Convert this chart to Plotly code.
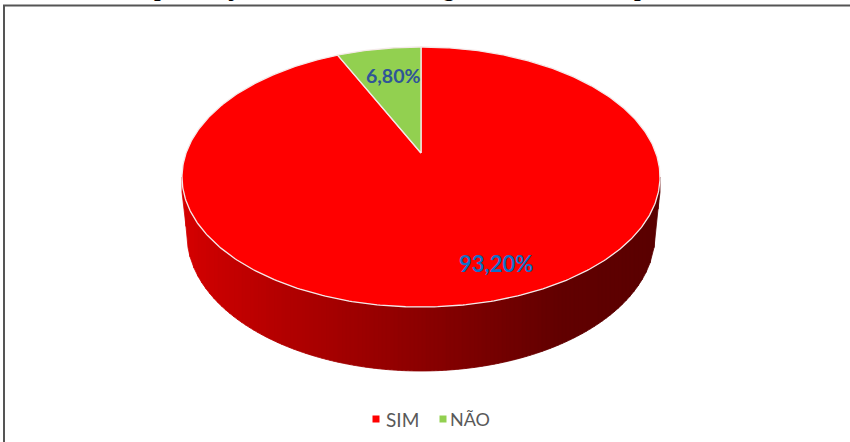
import numpy as np
import plotly.graph_objects as go

# --- data ---
categories = ["SIM", "NÃO"]
shares = [93.20, 6.80]
share_labels = ["93,20%", "6,80%"]
slice_colors = ["#ff0000", "#92d050"]
title_fragments = ["p", "j", "g,", "p"]   # only the descenders of the cropped title survive
title_fragment_x = [160, 232, 452, 640]

W, H = 850, 442

# --- geometry of the tilted disc (page pixels) ---
CX, CY = 421, 153          # apex of the slices
A, B, K = 234.9, 125.6, 0.1846   # perspective projection of the top disc
RIM_Y, RIM_RX, RIM_RY = 177, 239, 130     # silhouette of the top disc
BASE_Y, BASE_RX, BASE_RY = 235, 234, 136  # silhouette of the bottom edge
STRIP = 4

def rim(theta):
    """Project angle theta (radians, clockwise from the far point) onto the disc."""
    d = 1 + K * np.cos(theta)
    return CX + A * np.sin(theta) / d, CY - B * np.cos(theta) / d

def wedge(start, end):
    th = np.linspace(start, end, max(int(abs(end - start) * 90), 12))
    x, y = rim(th)
    return np.r_[CX, x, CX], np.r_[CY, y, CY]

fig = go.Figure()

# side wall, as vertical strips with a horizontal shade
shade_x = [183, 207, 280, 421, 520, 560, 659]
shade_r = [214, 204, 180, 140, 110, 98, 90]

def wall_top(x):
    return RIM_Y + RIM_RY * np.sqrt(np.clip(1 - ((x - CX) / RIM_RX) ** 2, 0, 1))

def wall_bottom(x):
    return BASE_Y + BASE_RY * np.sqrt(np.clip(1 - ((x - CX) / BASE_RX) ** 2, 0, 1))

left_edge = CX - RIM_RX
right_edge = CX + RIM_RX
for x0 in np.arange(left_edge, right_edge, STRIP):
    x1 = min(x0 + STRIP, right_edge)
    xs = np.linspace(x0, x1, 3)
    inner = np.clip(xs, CX - BASE_RX, CX + BASE_RX)
    top = wall_top(xs)
    bottom = np.maximum(wall_bottom(inner), top)
    # taper the outermost columns from the rim towards the bottom edge
    outside = np.abs(xs - CX) > BASE_RX
    frac = (np.abs(xs - CX) - BASE_RX) / (RIM_RX - BASE_RX)
    bottom = np.where(outside, BASE_Y + (192 - BASE_Y) * frac, bottom)
    r = int(np.interp((x0 + x1) / 2, shade_x, shade_r))
    col = f"rgb({r},0,0)"
    fig.add_trace(go.Scatter(
        x=np.r_[xs, xs[::-1], xs[0]], y=np.r_[top, bottom[::-1], top[0]],
        mode="lines", fill="toself", fillcolor=col,
        line=dict(color=col, width=0.8), hoverinfo="skip", showlegend=False))

# top face: slices are laid out clockwise from the 12 o'clock point
fracs = np.array(shares) / sum(shares)
ends = 2 * np.pi * np.cumsum(fracs)
starts = np.r_[0, ends[:-1]]
for name, s, e, c in zip(categories, starts, ends, slice_colors):
    x, y = wedge(s, e)
    fig.add_trace(go.Scatter(
        x=x, y=y, name=name, mode="lines", fill="toself", fillcolor=c,
        line=dict(color="#f4e9e9", width=1.3), hoverinfo="skip", showlegend=False))

# key: coloured squares plus names
key_sq_x = [376, 443]
key_tx_x = [384, 448]
KEY_Y = 419
fig.add_trace(go.Scatter(
    x=key_sq_x, y=[KEY_Y, KEY_Y], mode="markers",
    marker=dict(symbol="square", size=7, color=slice_colors),
    hoverinfo="skip", showlegend=False))

annotations = []
for name, x, s in zip(categories, key_tx_x, [19, 18]):
    annotations.append(dict(x=x, y=KEY_Y, text=name, showarrow=False, xanchor="left",
                            yanchor="middle", font=dict(family="Lato", size=s, color="#595959")))

label_pos = [(496, 263), (393, 75)]
label_colors = ["#0f6fc6", "#2f5597"]
label_sizes = [22, 19.5]
for t, (x, y), c, s in zip(share_labels, label_pos, label_colors, label_sizes):
    annotations.append(dict(x=x, y=y, text=f"<b>{t}</b>", showarrow=False,
                            font=dict(family="Lato", size=s, color=c)))

for t, x in zip(title_fragments, title_fragment_x):
    annotations.append(dict(x=x, y=3, text=f"<b>{t}</b>", showarrow=False, yanchor="bottom",
                            font=dict(family="Liberation Serif", size=24, color="#000000")))

shapes = [
    dict(type="line", x0=3, x1=W, y0=5.5, y1=5.5, line=dict(color="#555555", width=2)),
    dict(type="line", x0=4, x1=4, y0=5, y1=H, line=dict(color="#555555", width=2)),
]

fig.update_layout(
    width=W, height=H, margin=dict(l=0, r=0, t=0, b=0),
    paper_bgcolor="white", plot_bgcolor="white", showlegend=False,
    xaxis=dict(range=[0, W], visible=False, fixedrange=True),
    yaxis=dict(range=[H, 0], visible=False, fixedrange=True),
    annotations=annotations, shapes=shapes,
)
fig.write_html("out.html", config={"displayModeBar": False},
               post_script="document.body.style.margin='0';document.body.style.overflow='hidden';")
